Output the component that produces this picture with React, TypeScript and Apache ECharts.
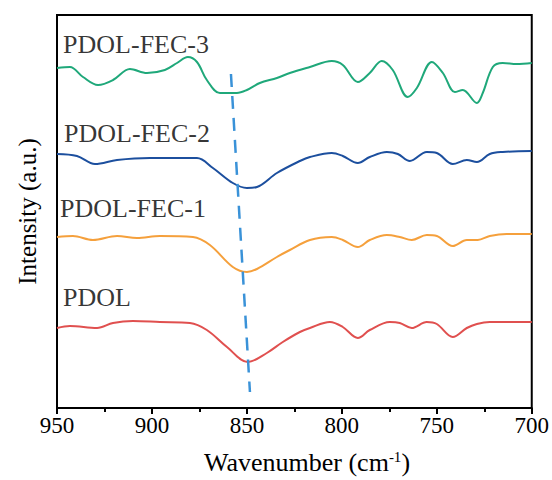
import React, { useEffect, useRef } from "react";
import * as echarts from "echarts";

// Wavenumber (cm-1) / intensity (a.u.) pairs
const fec3X = [950, 943.2, 936.3, 928.4, 920.5, 911.6, 902.6, 893.2, 886.8, 881.1, 876.3, 871.1, 864.2, 855.3, 850.0, 843.2, 834.2, 827.4, 816.8, 805.3, 799.5, 791.6, 785.3, 779.0, 773.2, 765.3, 760.5, 752.6, 746.8, 740.5, 736.3, 728.9, 725.8, 720.5, 715.3, 707.9, 700];
const fec3Y = [340, 341, 331, 323, 328, 339, 335, 338, 345, 351, 346, 328, 315, 315, 318, 325, 330, 335, 341, 347, 343, 326, 335, 347, 338, 311, 320, 346, 335, 316, 318, 305, 315, 341, 345, 344, 345];

const fec2X = [950, 939.5, 930.0, 918.4, 901.1, 876.3, 867.9, 857.4, 850.0, 844.7, 834.2, 822.1, 816.8, 805.3, 799.5, 791.6, 785.3, 776.3, 770.5, 764.2, 755.3, 750.0, 741.6, 734.2, 728.9, 722.1, 715.3, 700];
const fec2Y = [254, 252, 244, 248, 250, 250, 240, 225, 220, 221, 235, 247, 251, 255, 252, 245, 251, 256, 254, 247, 256, 255, 244, 248, 246, 254, 256, 257];

const fec1X = [950, 941.6, 931.1, 918.4, 907.9, 895.8, 878.4, 869.5, 857.4, 850.0, 844.7, 834.2, 827.4, 816.8, 805.3, 799.5, 791.6, 785.3, 776.3, 769.5, 763.2, 755.3, 750.0, 741.6, 734.2, 728.4, 722.1, 713.2, 700];
const fec1Y = [171, 172, 168, 172, 170, 172, 171, 163, 141, 136, 139, 151, 158, 168, 171, 168, 161, 168, 173, 171, 168, 173, 172, 162, 168, 168, 172, 174, 174];

const pdolX = [950, 943.2, 928.9, 920.5, 910.0, 895.8, 880.0, 871.1, 860.5, 849.5, 839.5, 831.1, 822.1, 816.8, 806.3, 799.5, 791.6, 785.3, 774.7, 769.5, 763.2, 755.3, 750.0, 741.6, 734.2, 728.9, 722.1, 700];
const pdolY = [80, 82, 80, 85, 87, 86, 85, 78, 61, 46, 55, 66, 76, 80, 86, 81, 70, 78, 86, 85, 80, 86, 84, 71, 80, 84, 86, 86];

const guideX = [858.4, 848.4];
const guideY = [334, 16];

const seriesNames = ["PDOL-FEC-3", "PDOL-FEC-2", "PDOL-FEC-1", "PDOL"];
const seriesColors = ["#1fa87a", "#1c4f9e", "#f5a03c", "#e0504f"];
const labelX = [946.8, 946.3, 948.4, 946.8];
const labelY = [363.5, 275, 200, 110.5];

const xTicks = [950, 900, 850, 800, 750, 700];

const zip = (xs: number[], ys: number[]) => xs.map((x, i) => [x, ys[i]]);

const FONT = "'Liberation Serif', 'Times New Roman', serif";

export default function App() {
  const ref = useRef<HTMLDivElement>(null);
  useEffect(() => {
    document.body.style.margin = "0";
    if (!ref.current) return;
    const chart = echarts.init(ref.current, null, { renderer: "svg" });
    const curves = [zip(fec3X, fec3Y), zip(fec2X, fec2Y), zip(fec1X, fec1Y), zip(pdolX, pdolY)];
    chart.setOption({
      animation: false,
      backgroundColor: "#fff",
      grid: { left: 57, right: 20, top: 15, bottom: 72, show: true, borderColor: "#000", borderWidth: 2 },
      xAxis: {
        type: "value",
        inverse: true,
        min: 700,
        max: 950,
        interval: 50,
        axisLine: { show: true, lineStyle: { color: "#000", width: 2 } },
        axisTick: { show: true, inside: false, length: 6, lineStyle: { color: "#000", width: 2 } },
        minorTick: { show: true, splitNumber: 2, length: 4, lineStyle: { color: "#000", width: 2 } },
        splitLine: { show: false },
        axisLabel: {
          color: "#000",
          fontSize: 23,
          fontFamily: FONT,
          margin: 6,
          formatter: (v: number) => (xTicks.includes(v) ? String(v) : ""),
        },
      },
      yAxis: {
        type: "value",
        min: 0,
        max: 393,
        axisLine: { show: true, lineStyle: { color: "#000", width: 2 } },
        axisTick: { show: false },
        axisLabel: { show: false },
        splitLine: { show: false },
        name: "Intensity (a.u.)",
        nameLocation: "middle",
        nameGap: 17,
        nameTextStyle: { color: "#000", fontSize: 25, fontFamily: FONT },
      },
      graphic: [
        {
          type: "text",
          left: 204,
          top: 449,
          style: {
            text: "Wavenumber (cm{sup|-1})",
            rich: {
              sup: { fontSize: 15, fontFamily: FONT, fill: "#000", padding: [0, 0, 12, 0] },
            },
            fontSize: 26,
            fontFamily: FONT,
            fill: "#000",
          },
        },
      ],
      series: [
        ...curves.map((d, i) => ({
          type: "line",
          name: seriesNames[i],
          data: d,
          smooth: 0.35,
          showSymbol: false,
          symbol: "none",
          lineStyle: { color: seriesColors[i], width: 2 },
          z: 3,
        })),
        {
          type: "line",
          name: "guide",
          data: zip(guideX, guideY),
          showSymbol: false,
          symbol: "none",
          lineStyle: { color: "#3a92d8", width: 2.5, type: [13, 9] },
          z: 4,
        },
        {
          type: "scatter",
          name: "labels",
          symbolSize: 0,
          data: seriesNames.map((n, i) => ({ value: [labelX[i], labelY[i]], name: n })),
          label: {
            show: true,
            position: "right",
            distance: 0,
            formatter: (p: any) => p.name,
            color: "#000",
            fontSize: 26,
            fontFamily: FONT,
          },
          z: 5,
        },
      ],
    });
    return () => chart.dispose();
  }, []);
  return <div ref={ref} style={{ width: 552, height: 480 }} />;
}
